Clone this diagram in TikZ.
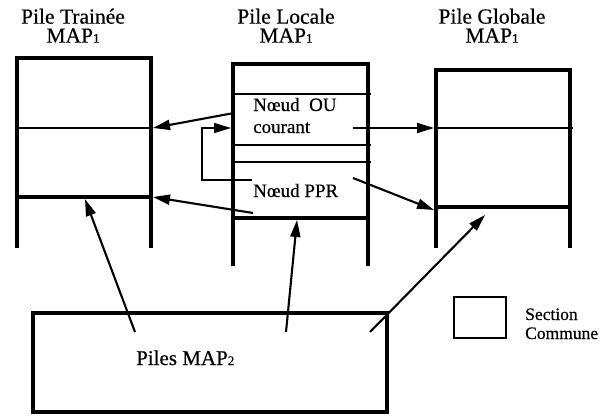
\documentclass[tikz,border=0pt]{standalone}
\usepackage{fontspec}
\setmainfont{Liberation Serif}[FakeBold=0.5]
\usetikzlibrary{arrows.meta}
\begin{document}
\begin{tikzpicture}[x=1pt,y=-1pt,
  stk/.style={line width=4pt,line join=miter},
  sep/.style={line width=1.8pt},
  arr/.style={line width=2.1pt,-{Triangle[length=17pt,width=10pt]}},
  arrthin/.style={line width=1.5pt,-{Triangle[length=17pt,width=10pt]}},
  title/.style={font=\fontsize{21.5}{19}\selectfont,align=center,inner sep=0pt,anchor=north},
  lbl/.style={font=\fontsize{19}{22}\selectfont,inner sep=0pt,anchor=base west},
  leg/.style={font=\fontsize{17.5}{21}\selectfont,inner sep=0pt,anchor=base west}]
\useasboundingbox (0,0) rectangle (602,415);
\newcommand{\mapone}{MAP{\fontsize{13}{13}\selectfont 1}}
% titles
\node[title] (t1) at (73,8.5) {Pile Trainée\\\mapone};
\node[title] (t2) at (286,8.5) {Pile Locale\\\mapone};
\node[title] (t3) at (492,8.5) {Pile Globale\\\mapone};
% left stack (Trainee)
\draw[stk] (17,248) -- (17,58) -- (151,58) -- (151,248);
\draw[sep] (17,128) -- (151,128);
\draw[stk] (17,197) -- (151,197);
% middle stack (Locale)
\draw[stk] (233,266) -- (233,64) -- (368,64) -- (368,266);
\draw[sep] (233,94) -- (371,94);
\draw[sep] (233,145) -- (371,145);
\draw[sep] (233,162) -- (371,162);
\draw[stk] (233,218) -- (370,218);
% right stack (Globale)
\draw[stk] (436,248) -- (436,70) -- (570,70) -- (570,248);
\draw[sep] (436,128) -- (573,128);
\draw[stk] (436,207) -- (570,207);
% texts in middle stack
\node[lbl] (ou) at (253,111) {N\oe ud\ \ OU};
\node[lbl] (cour) at (253,133) {courant};
\node[lbl] (ppr) at (253,197) {N\oe ud PPR};
% bottom box
\draw[stk] (33,313) rectangle (387,412);
\node[font=\fontsize{21}{23}\selectfont,inner sep=0pt,anchor=base west] (map2) at (136,365) {Piles MAP{\fontsize{13}{13}\selectfont 2}};
% legend
\draw[line width=2.2pt] (454,297) rectangle (506,338);
\node[leg] (sec) at (525,320) {Section};
\node[leg] (com) at (525,339) {Commune};
% connector end points
\coordinate (a1s) at (234,113);
\coordinate (a1e) at (153,128);
\coordinate (lps) at (252,180);
\coordinate (lpc) at (202,180);
\coordinate (lpe) at (231,128);
\coordinate (a3s) at (253,213);
\coordinate (a3e) at (153,197);
\coordinate (a4s) at (353,128);
\coordinate (a4e) at (434,128);
\coordinate (a5s) at (353,178);
\coordinate (a5e) at (434,210);
\coordinate (b1s) at (135,332);
\coordinate (b1e) at (85,199);
\coordinate (b2s) at (286,332);
\coordinate (b2e) at (297,220);
\coordinate (b3s) at (370,332);
\coordinate (b3e) at (485,215);
% arrows
\draw[arr] (a1s) -- (a1e);
\draw[arrthin] (lps) -- (lpc) |- (lpe);
\draw[arr] (a3s) -- (a3e);
\draw[arr] (a4s) -- (a4e);
\draw[arr] (a5s) -- (a5e);
\draw[arr] (b1s) -- (b1e);
\draw[arr] (b2s) -- (b2e);
\draw[arr] (b3s) -- (b3e);
\end{tikzpicture}
\end{document}
